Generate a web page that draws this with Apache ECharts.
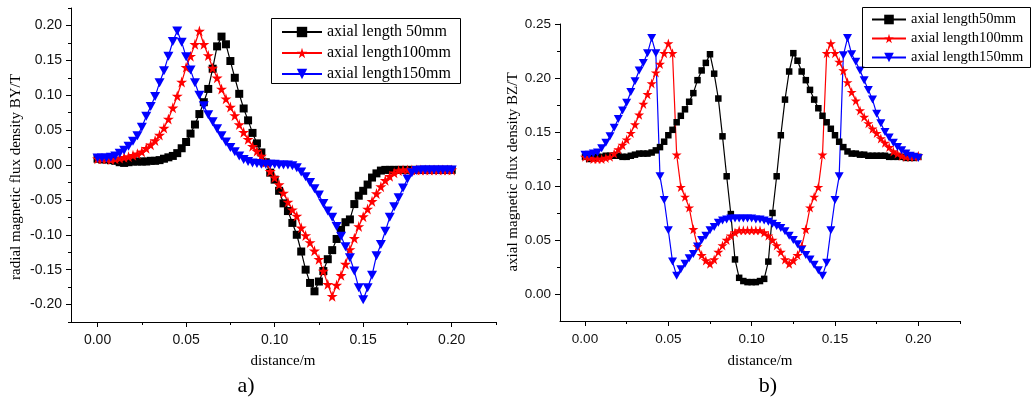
<!DOCTYPE html>
<html>
<head>
<meta charset="utf-8">
<script src="https://cdn.jsdelivr.net/npm/echarts@6/dist/echarts.min.js"></script>
<style>html,body{margin:0;padding:0;background:#fff}#c{width:1036px;height:400px}</style>
</head>
<body>
<div id="c"></div>
<script>
const distance = [0,0.0025,0.005,0.0075,0.01,0.0125,0.015,0.0175,0.02,0.0225,
 0.025,0.0275,0.03,0.0325,0.035,0.0375,0.04,0.0425,0.045,0.0475,
 0.05,0.0525,0.055,0.0575,0.06,0.0625,0.065,0.0675,0.07,0.0725,
 0.075,0.0775,0.08,0.0825,0.085,0.0875,0.09,0.0925,0.095,0.0975,
 0.1,0.1025,0.105,0.1075,0.11,0.1125,0.115,0.1175,0.12,0.1225,
 0.125,0.1275,0.13,0.1325,0.135,0.1375,0.14,0.1425,0.145,0.1475,
 0.15,0.1525,0.155,0.1575,0.16,0.1625,0.165,0.1675,0.17,0.1725,
 0.175,0.1775,0.18,0.1825,0.185,0.1875,0.19,0.1925,0.195,0.1975,0.2];

// a) radial flux density BY (T)
const byLen50 = [0.009,0.008,0.008,0.007,0.006,0.004,0.003,0.004,0.005,0.005,
 0.005,0.005,0.006,0.006,0.007,0.009,0.011,0.013,0.017,0.024,
 0.033,0.045,0.058,0.073,0.090,0.109,0.138,0.170,0.184,0.173,
 0.149,0.125,0.102,0.081,0.064,0.046,0.031,0.018,0.004,-0.011,
 -0.021,-0.037,-0.055,-0.066,-0.083,-0.100,-0.124,-0.150,-0.169,-0.181,
 -0.167,-0.152,-0.135,-0.122,-0.106,-0.093,-0.082,-0.078,-0.056,-0.044,
 -0.037,-0.028,-0.018,-0.012,-0.008,-0.007,-0.007,-0.007,-0.007,-0.007,
 -0.007,-0.007,-0.007,-0.007,-0.007,-0.007,-0.007,-0.007,-0.007,-0.007,-0.007];
const byLen100 = [0.009,0.009,0.009,0.008,0.009,0.010,0.011,0.012,0.014,0.016,
 0.019,0.024,0.029,0.035,0.043,0.053,0.066,0.082,0.099,0.119,
 0.140,0.156,0.173,0.192,0.173,0.157,0.139,0.125,0.109,0.095,
 0.083,0.071,0.058,0.047,0.037,0.027,0.020,0.013,0.004,-0.009,
 -0.018,-0.028,-0.040,-0.053,-0.064,-0.073,-0.090,-0.101,-0.111,-0.123,
 -0.135,-0.152,-0.171,-0.188,-0.172,-0.158,-0.142,-0.121,-0.105,-0.088,
 -0.074,-0.063,-0.052,-0.041,-0.031,-0.022,-0.016,-0.011,-0.008,-0.007,
 -0.007,-0.007,-0.007,-0.007,-0.007,-0.007,-0.007,-0.007,-0.007,-0.007,-0.007];
const byLen150 = [0.010,0.010,0.010,0.011,0.013,0.017,0.021,0.027,0.034,0.042,
 0.054,0.070,0.084,0.098,0.118,0.135,0.156,0.177,0.192,0.176,
 0.155,0.136,0.118,0.100,0.085,0.072,0.062,0.052,0.042,0.033,
 0.025,0.019,0.013,0.008,0.005,0.003,0.002,0.001,0.001,0.001,
 0.001,0.000,0.000,0.000,-0.001,-0.004,-0.010,-0.017,-0.025,-0.034,
 -0.043,-0.055,-0.066,-0.075,-0.088,-0.102,-0.117,-0.133,-0.152,-0.176,
 -0.193,-0.176,-0.158,-0.130,-0.114,-0.095,-0.075,-0.060,-0.047,-0.033,
 -0.020,-0.011,-0.008,-0.007,-0.007,-0.007,-0.007,-0.007,-0.007,-0.007,-0.007];

// b) axial flux density BZ (T)
const bzLen50 = [0.127,0.125,0.126,0.127,0.127,0.128,0.128,0.128,0.128,0.127,
 0.127,0.128,0.129,0.130,0.130,0.130,0.131,0.133,0.136,0.141,
 0.147,0.152,0.159,0.165,0.171,0.178,0.186,0.198,0.207,0.214,
 0.222,0.204,0.181,0.146,0.109,0.074,0.032,0.015,0.012,0.011,
 0.011,0.011,0.012,0.014,0.030,0.075,0.109,0.147,0.180,0.206,
 0.223,0.216,0.206,0.198,0.189,0.180,0.172,0.165,0.159,0.153,
 0.147,0.141,0.136,0.132,0.130,0.130,0.129,0.129,0.128,0.128,
 0.128,0.128,0.128,0.127,0.127,0.127,0.127,0.126,0.126,0.126,0.127];
const bzLen100 = [0.127,0.126,0.125,0.125,0.125,0.126,0.127,0.130,0.134,0.138,
 0.143,0.149,0.157,0.166,0.176,0.185,0.195,0.205,0.213,0.223,
 0.232,0.223,0.129,0.099,0.090,0.080,0.060,0.044,0.036,0.031,
 0.028,0.032,0.039,0.045,0.050,0.054,0.057,0.059,0.059,0.059,
 0.059,0.059,0.059,0.057,0.054,0.050,0.045,0.039,0.032,0.028,
 0.031,0.036,0.044,0.060,0.080,0.090,0.099,0.129,0.223,0.232,
 0.223,0.215,0.207,0.196,0.187,0.179,0.170,0.164,0.158,0.153,
 0.149,0.144,0.140,0.136,0.132,0.130,0.128,0.127,0.127,0.127,0.128];
const bzLen150 = [0.129,0.129,0.130,0.131,0.135,0.140,0.146,0.154,0.162,0.170,
 0.177,0.187,0.197,0.207,0.214,0.223,0.237,0.223,0.109,0.087,
 0.059,0.030,0.017,0.023,0.028,0.033,0.037,0.044,0.050,0.054,
 0.059,0.062,0.066,0.068,0.069,0.070,0.070,0.070,0.070,0.070,
 0.070,0.069,0.069,0.068,0.067,0.065,0.063,0.061,0.058,0.054,
 0.050,0.046,0.041,0.036,0.032,0.027,0.022,0.017,0.029,0.059,
 0.087,0.109,0.221,0.237,0.222,0.215,0.207,0.198,0.189,0.180,
 0.167,0.158,0.150,0.145,0.140,0.136,0.133,0.130,0.128,0.127,0.126];

const namesA = ['axial length 50mm','axial length100mm','axial length150mm'];
const namesB = ['axial length50mm','axial length100mm','axial length150mm'];

const xTicks = [0,0.05,0.1,0.15,0.2];
const xMinorTicks = [0.025,0.075,0.125,0.175,0.225];
const yTicksA = [-0.2,-0.15,-0.1,-0.05,0,0.05,0.1,0.15,0.2];
const yMinorTicksA = [-0.225,-0.175,-0.125,-0.075,-0.025,0.025,0.075,0.125,0.175,0.225];
const yTicksB = [0,0.05,0.1,0.15,0.2,0.25];
const yMinorTicksB = [0.025,0.075,0.125,0.175,0.225];

const pairs = arr => arr.map((v,i) => [distance[i], v]);
const STAR = 'path://M50,0 L61,35 L98,35 L68,57 L79,91 L50,70 L21,91 L32,57 L2,35 L39,35 Z';
const TRI_DOWN = 'path://M0,0 L10,0 L5,9 Z';
const SANS = '"Liberation Sans", Arial, sans-serif';
const SERIF = '"Liberation Serif", "Times New Roman", serif';

function mainAxis(grid, min, max, ticks, fs, margin, pos) {
  return {
    type: 'value', gridIndex: grid, min: min, max: max, position: pos,
    axisLine: {show: true, onZero: false, lineStyle: {color: '#000', width: 1}},
    axisTick: {show: true, inside: false, length: 5, customValues: ticks, lineStyle: {color: '#000'}},
    axisLabel: {show: true, customValues: ticks, margin: margin, color: '#111',
      fontFamily: SANS, fontSize: fs, formatter: v => v.toFixed(2)},
    splitLine: {show: false}
  };
}
function minorAxis(grid, min, max, ticks, pos) {
  return {
    type: 'value', gridIndex: grid, min: min, max: max, position: pos, offset: 0,
    axisLine: {show: false, onZero: false},
    axisTick: {show: true, inside: false, length: 3, customValues: ticks, lineStyle: {color: '#000'}},
    axisLabel: {show: false, customValues: ticks},
    splitLine: {show: false}
  };
}
const xA = mainAxis(0, -0.015, 0.225, xTicks, 14, 11, 'bottom');
const xAm = minorAxis(0, -0.015, 0.225, xMinorTicks, 'bottom');
const xB = mainAxis(1, -0.015, 0.225, xTicks, 13.5, 11, 'bottom');
const xBm = minorAxis(1, -0.015, 0.225, xMinorTicks, 'bottom');
const yA = mainAxis(0, -0.225, 0.225, yTicksA, 14, 9, 'left');
const yAm = minorAxis(0, -0.225, 0.225, yMinorTicksA, 'left');
const yB = mainAxis(1, -0.025, 0.25, yTicksB, 13.5, 9, 'left');
const yBm = minorAxis(1, -0.025, 0.25, yMinorTicksB, 'left');

function ser(name, data, xi, yi, color, symbol, size) {
  return {
    name: name, type: 'line', xAxisIndex: xi, yAxisIndex: yi, data: pairs(data),
    symbol: symbol, symbolSize: size, showSymbol: true, showAllSymbol: true,
    lineStyle: {color: color, width: 1.2}, itemStyle: {color: color, borderWidth: 0},
    color: color, animation: false, emphasis: {disabled: true}
  };
}

const chart = echarts.init(document.getElementById('c'), null, {renderer: 'canvas'});
chart.setOption({
  backgroundColor: '#fff',
  animation: false,
  grid: [
    {left: 71, top: 8, width: 425, height: 314},
    {left: 560, top: 24, width: 400, height: 297}
  ],
  xAxis: [xA, xAm, xB, xBm],
  yAxis: [yA, yAm, yB, yBm],
  legend: [
    {data: namesA, left: 281, top: 24, orient: 'vertical', padding: 0,
     itemWidth: 40, itemHeight: 13, itemGap: 5, selectedMode: false,
     textStyle: {fontFamily: SERIF, fontSize: 16, lineHeight: 16, color: '#000'}},
    {data: namesB, left: 871, top: 12, orient: 'vertical', padding: 0,
     itemWidth: 34, itemHeight: 12, itemGap: 4, selectedMode: false,
     textStyle: {fontFamily: SERIF, fontSize: 14.5, lineHeight: 15, color: '#000'}}
  ],
  series: [
    ser(namesA[0], byLen50, 0, 0, '#000000', 'rect', 8),
    ser(namesA[1], byLen100, 0, 0, '#ff0000', STAR, 11),
    ser(namesA[2], byLen150, 0, 0, '#0000ff', TRI_DOWN, [10, 9]),
    ser(namesB[0], bzLen50, 2, 2, '#000000', 'rect', 6.5),
    ser(namesB[1], bzLen100, 2, 2, '#ff0000', STAR, 10),
    ser(namesB[2], bzLen150, 2, 2, '#0000ff', TRI_DOWN, [9, 8])
  ],
  graphic: [
    {type: 'rect', shape: {x: 271.5, y: 18.5, width: 189, height: 65}, style: {fill: 'none', stroke: '#000', lineWidth: 1}, z: 10},
    {type: 'rect', shape: {x: 862.5, y: 7.5, width: 168, height: 60}, style: {fill: 'none', stroke: '#000', lineWidth: 1}, z: 10},
    {type: 'text', x: 16, y: 177, rotation: Math.PI / 2,
     style: {text: 'radial magnetic flux density BY/T', fontFamily: SERIF, fontSize: 15, fill: '#000', align: 'center', verticalAlign: 'middle'}},
    {type: 'text', x: 513, y: 172, rotation: Math.PI / 2,
     style: {text: 'axial magnetic flux density BZ/T', fontFamily: SERIF, fontSize: 15, fill: '#000', align: 'center', verticalAlign: 'middle'}},
    {type: 'text', x: 283, y: 361,
     style: {text: 'distance/m', fontFamily: SERIF, fontSize: 15, fill: '#000', align: 'center', verticalAlign: 'middle'}},
    {type: 'text', x: 760, y: 361,
     style: {text: 'distance/m', fontFamily: SERIF, fontSize: 15, fill: '#000', align: 'center', verticalAlign: 'middle'}},
    {type: 'text', x: 246, y: 386,
     style: {text: 'a)', fontFamily: SERIF, fontSize: 22, fill: '#000', align: 'center', verticalAlign: 'middle'}},
    {type: 'text', x: 768, y: 386,
     style: {text: 'b)', fontFamily: SERIF, fontSize: 22, fill: '#000', align: 'center', verticalAlign: 'middle'}}
  ]
});
</script>
</body>
</html>
